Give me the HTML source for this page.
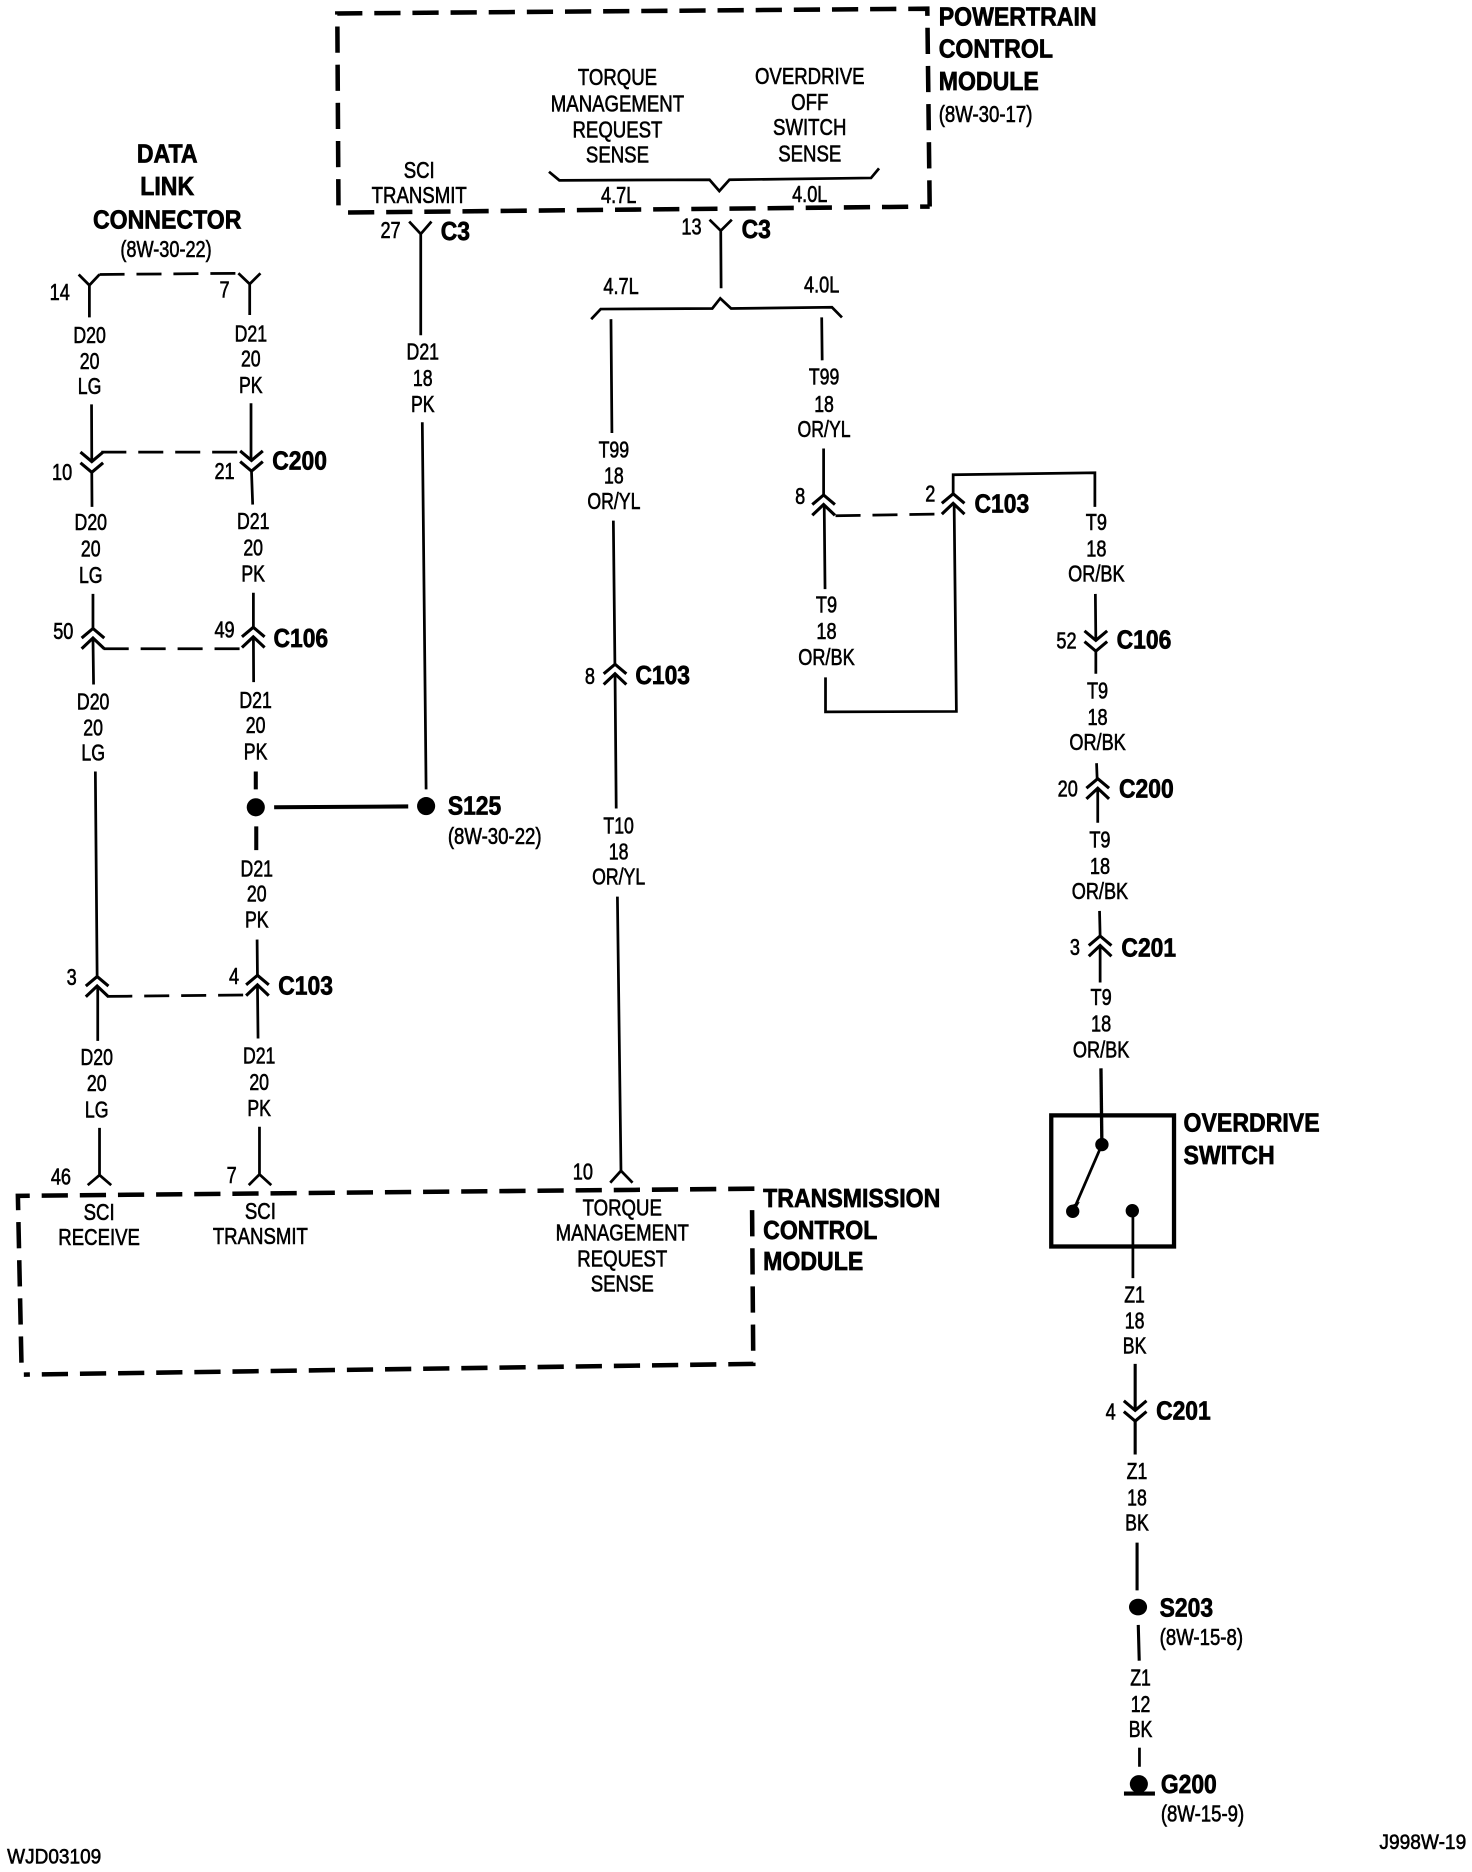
<!DOCTYPE html>
<html>
<head>
<meta charset="utf-8">
<style>
html,body{margin:0;padding:0;background:#fff;width:1472px;height:1872px;overflow:hidden}
svg{display:block}
text{font-family:"Liberation Sans",sans-serif;fill:#000}
.s text{font-size:19px;text-anchor:middle;stroke:#000;stroke-width:.5}
.l text{font-size:19px;text-anchor:start;stroke:#000;stroke-width:.5}
.b text{font-size:22px;font-weight:bold;text-anchor:start;stroke:#000;stroke-width:.6}
.bc text{font-size:22px;font-weight:bold;text-anchor:middle;stroke:#000;stroke-width:.6}
.w{fill:none;stroke:#000;stroke-width:2.3}
.t{fill:none;stroke:#000;stroke-width:3.4}
.d{fill:none;stroke:#000;stroke-width:2.3;stroke-dasharray:21 10}
.m{fill:none;stroke:#000;stroke-width:3.8;stroke-dasharray:22 10}
.c{fill:none;stroke:#000;stroke-width:2.6}
</style>
</head>
<body>
<svg xmlns="http://www.w3.org/2000/svg" width="1472" height="1872" viewBox="0 0 1235 1570">
<defs>
<path id="up" class="c" d="M-9.5,8 L0,0 L9.5,8 M-9.5,17 L0,8 L9.5,17"/>
<path id="dn" class="c" d="M-9.5,-8 L0,0 L9.5,-8 M-9.5,1 L0,9 L9.5,1"/>
</defs>

<!-- module boxes -->
<path class="m" d="M292,178 L780,173 M780,173 L778,7 L283,11 L284,178"/>
<path class="m" d="M18,1143 L15,1003 L633,997 M631,1015 L632,1144 L20,1153"/>

<!-- Data link connector -->
<path class="w" d="M66,230 L75,239 L83.5,230 M75,239 L75,266 M200,229 L209.5,238 L218.5,229 M209.5,238 L209.5,264"/>
<path class="d" d="M83.5,230 L200,229"/>

<!-- left column D20 -->
<use href="#dn" x="77" y="387"/>
<path class="w" d="M76.8,339 L77,387 M77,396 L77.2,425 M78,498 L78,527 M78,535 L78.5,574 M80,647 L81.5,819 M82,827 L82,873 M83.5,946 L83.5,986 M73.6,994 L83.5,985.6 L93.3,994"/>
<use href="#up" x="78" y="527"/>
<use href="#up" x="81.5" y="819"/>
<path class="d" d="M85,379 L201,379"/>
<path class="d" d="M87,544 L203,544"/>
<path class="d" d="M90,835.7 L207,834.5"/>

<!-- second column D21 -->
<use href="#dn" x="211" y="386"/>
<use href="#up" x="212.5" y="526"/>
<use href="#up" x="216" y="818"/>
<path class="w" d="M210.6,338 L210.6,386 M211,395 L212,423 M212.6,497 L212.6,526 M212.6,534 L212.8,572 M215.7,788 L216,818 M216,826 L216.5,871 M217.7,945 L217.7,985 M208.7,994 L217.7,985 L227.6,994"/>
<path class="t" d="M214.6,647 L214.6,662 M215,693 L215,713"/>
<circle cx="214.6" cy="677" r="7.6"/>
<path class="t" d="M230,677 L342.5,676.3"/>
<circle cx="357.5" cy="676" r="7.6"/>

<!-- SCI transmit wire -->
<path class="w" d="M343.3,185.6 L353,196 L362,185.6 M353,196 L353,281 M354.3,354 L357.5,662"/>

<!-- PCM splice brackets -->
<path class="w" d="M460.6,143.8 L469.3,151 L595.3,150.5 L603.5,160 L612,150.5 L730.8,149 L737.5,141"/>
<path class="w" d="M595.3,184 L604.7,193.3 L614,184 M604.7,193 L605,241.5"/>
<path class="w" d="M496,267.5 L504,259 L597.6,258.5 L604.3,250 L613.4,258.5 L698,257.5 L706.4,266"/>

<!-- center column -->
<use href="#up" x="516" y="557"/>
<path class="w" d="M512.6,267.5 L513.4,363 M514.6,436.5 L515.9,557 M516,565 L517,678 M518,752 L521,982 M512,992 L521,982 L530.7,992"/>

<!-- right loop -->
<use href="#up" x="691" y="415"/>
<use href="#up" x="799.7" y="414"/>
<path class="w" d="M689.4,266 L689.8,302 M691,376 L691,415 M691.5,423 L692.2,494 M692.6,568 L692.6,597 L802.4,596.6 L800.5,422 M799.7,414 L799.7,398 L918.6,396.3 L918.6,425"/>
<path class="d" d="M701,432.4 L785,431"/>

<!-- right column -->
<use href="#dn" x="919.4" y="537"/>
<use href="#up" x="921" y="653"/>
<use href="#up" x="923" y="785"/>
<path class="w" d="M919,498 L919.4,537 M919.4,545 L919.4,565 M920,640 L920.5,653 M921,661 L921,690 M922.5,764 L923,785 M923,793 L923,824"/>
<path class="w" style="stroke-width:2.8" d="M923.7,896 L924.5,962"/>

<!-- switch -->
<rect x="882" y="935.5" width="103" height="110" fill="none" stroke="#000" stroke-width="3.6"/>
<circle cx="924.5" cy="960" r="5.6"/>
<circle cx="900" cy="1016" r="5.6"/>
<circle cx="950" cy="1015.5" r="5.6"/>
<path class="w" d="M924.5,960 L902,1012"/>
<path d="M898.5,1011 L906,1008 L901,1017 Z"/>
<path class="w" d="M950.5,1017 L950.5,1072"/>

<!-- bottom -->
<use href="#dn" x="952.4" y="1183"/>
<path class="w" style="stroke-width:2.6" d="M952.4,1144 L952.4,1183 M952.4,1192 L952.4,1220 M954,1294 L954,1334 M955,1363 L955.8,1393"/>
<path class="w" d="M956,1466 L956,1482"/>
<ellipse cx="954.8" cy="1348" rx="7.6" ry="7"/>
<ellipse cx="955.5" cy="1496.5" rx="7.6" ry="7.5"/>
<path class="t" d="M943,1504.5 L969,1504.5"/>

<g transform="matrix(1.002 0 0 1.0013 0 -1)">
<!-- wire labels -->
<g class="s">
<g transform="translate(75,0) scale(.78,1)"><text y="288">D20</text><text y="310">20</text><text y="331">LG</text></g>
<g transform="translate(210,0) scale(.78,1)"><text y="287">D21</text><text y="308">20</text><text y="330">PK</text></g>
<g transform="translate(76,0) scale(.78,1)"><text y="445">D20</text><text y="467">20</text><text y="489">LG</text></g>
<g transform="translate(212,0) scale(.78,1)"><text y="444">D21</text><text y="466">20</text><text y="488">PK</text></g>
<g transform="translate(78,0) scale(.78,1)"><text y="595">D20</text><text y="617">20</text><text y="638">LG</text></g>
<g transform="translate(214,0) scale(.78,1)"><text y="594">D21</text><text y="615">20</text><text y="637">PK</text></g>
<g transform="translate(215,0) scale(.78,1)"><text y="735">D21</text><text y="756">20</text><text y="778">PK</text></g>
<g transform="translate(81,0) scale(.78,1)"><text y="893">D20</text><text y="915">20</text><text y="937">LG</text></g>
<g transform="translate(217,0) scale(.78,1)"><text y="892">D21</text><text y="914">20</text><text y="936">PK</text></g>
<g transform="translate(354,0) scale(.78,1)"><text y="302">D21</text><text y="324">18</text><text y="346">PK</text></g>
<g transform="translate(514,0) scale(.78,1)"><text y="384">T99</text><text y="406">18</text><text y="427">OR/YL</text></g>
<g transform="translate(518,0) scale(.78,1)"><text y="699">T10</text><text y="721">18</text><text y="742">OR/YL</text></g>
<g transform="translate(690,0) scale(.78,1)"><text y="323">T99</text><text y="346">18</text><text y="367">OR/YL</text></g>
<g transform="translate(692,0) scale(.8,1)"><text y="514">T9</text><text y="536">18</text><text y="558">OR/BK</text></g>
<g transform="translate(918,0) scale(.8,1)"><text y="445">T9</text><text y="467">18</text><text y="488">OR/BK</text></g>
<g transform="translate(919,0) scale(.8,1)"><text y="586">T9</text><text y="608">18</text><text y="629">OR/BK</text></g>
<g transform="translate(921,0) scale(.8,1)"><text y="711">T9</text><text y="733">18</text><text y="754">OR/BK</text></g>
<g transform="translate(922,0) scale(.8,1)"><text y="843">T9</text><text y="865">18</text><text y="887">OR/BK</text></g>
<g transform="translate(950,0) scale(.78,1)"><text y="1092">Z1</text><text y="1114">18</text><text y="1135">BK</text></g>
<g transform="translate(952,0) scale(.78,1)"><text y="1240">Z1</text><text y="1262">18</text><text y="1283">BK</text></g>
<g transform="translate(955,0) scale(.78,1)"><text y="1413">Z1</text><text y="1435">12</text><text y="1456">BK</text></g>

<!-- module pin labels -->
<g transform="translate(517,0) scale(.82,1)"><text y="72">TORQUE</text><text y="94">MANAGEMENT</text><text y="116">REQUEST</text><text y="137">SENSE</text></g>
<g transform="translate(678,0) scale(.82,1)"><text y="71">OVERDRIVE</text><text y="93">OFF</text><text y="114">SWITCH</text><text y="136">SENSE</text></g>
<g transform="translate(351,0) scale(.82,1)"><text y="150">SCI</text><text y="171">TRANSMIT</text></g>
<g transform="translate(83,0) scale(.82,1)"><text y="1023">SCI</text><text y="1044">RECEIVE</text></g>
<g transform="translate(218,0) scale(.82,1)"><text y="1022">SCI</text><text y="1043">TRANSMIT</text></g>
<g transform="translate(521,0) scale(.82,1)"><text y="1019">TORQUE</text><text y="1040">MANAGEMENT</text><text y="1062">REQUEST</text><text y="1083">SENSE</text></g>
<g transform="translate(518,0) scale(.8,1)"><text y="171">4.7L</text></g>
<g transform="translate(678,0) scale(.8,1)"><text y="170">4.0L</text></g>
<g transform="translate(520,0) scale(.8,1)"><text y="247">4.7L</text></g>
<g transform="translate(688,0) scale(.8,1)"><text y="246">4.0L</text></g>

<!-- pin numbers -->
<g transform="translate(327,200) scale(.8,1)"><text>27</text></g>
<g transform="translate(579,197) scale(.8,1)"><text>13</text></g>
<g transform="translate(50,252) scale(.8,1)"><text>14</text></g>
<g transform="translate(188,250) scale(.8,1)"><text>7</text></g>
<g transform="translate(52,403) scale(.8,1)"><text>10</text></g>
<g transform="translate(188,402) scale(.8,1)"><text>21</text></g>
<g transform="translate(53,536) scale(.8,1)"><text>50</text></g>
<g transform="translate(188,535) scale(.8,1)"><text>49</text></g>
<g transform="translate(60,826) scale(.8,1)"><text>3</text></g>
<g transform="translate(196,825) scale(.8,1)"><text>4</text></g>
<g transform="translate(51,993) scale(.8,1)"><text>46</text></g>
<g transform="translate(194,992) scale(.8,1)"><text>7</text></g>
<g transform="translate(488,989) scale(.8,1)"><text>10</text></g>
<g transform="translate(670,423) scale(.8,1)"><text>8</text></g>
<g transform="translate(779,421) scale(.8,1)"><text>2</text></g>
<g transform="translate(494,574) scale(.8,1)"><text>8</text></g>
<g transform="translate(893,544) scale(.8,1)"><text>52</text></g>
<g transform="translate(894,668) scale(.8,1)"><text>20</text></g>
<g transform="translate(900,801) scale(.8,1)"><text>3</text></g>
<g transform="translate(930,1190) scale(.8,1)"><text>4</text></g>

<g transform="translate(139,216) scale(.8,1)"><text>(8W-30-22)</text></g>
</g>

<!-- reference labels (left aligned) -->
<g class="l">
<g transform="translate(786,103) scale(.82,1)"><text>(8W-30-17)</text></g>
<g transform="translate(375,708) scale(.82,1)"><text>(8W-30-22)</text></g>
<g transform="translate(971,1379) scale(.82,1)"><text>(8W-15-8)</text></g>
<g transform="translate(972,1527) scale(.82,1)"><text>(8W-15-9)</text></g>
<g transform="translate(6,1562) scale(.885,1)"><text style="font-size:18px">WJD03109</text></g>
<g transform="translate(1155,1550) scale(.89,1)"><text style="font-size:18px">J998W-19</text></g>
</g>

<!-- bold labels -->
<g class="bc">
<g transform="translate(140,0) scale(.88,1)"><text y="137">DATA</text><text y="164">LINK</text><text y="192">CONNECTOR</text></g>
</g>
<g class="b">
<g transform="translate(786,0) scale(.88,1)"><text y="22">POWERTRAIN</text><text y="49">CONTROL</text><text y="76">MODULE</text></g>
<g transform="translate(639,0) scale(.88,1)"><text y="1012">TRANSMISSION</text><text y="1039">CONTROL</text><text y="1065">MODULE</text></g>
<g transform="translate(991,0) scale(.88,1)"><text y="949">OVERDRIVE</text><text y="976">SWITCH</text></g>
<g transform="translate(369,202) scale(.87,1)"><text>C3</text></g>
<g transform="translate(621,200) scale(.87,1)"><text>C3</text></g>
<g transform="translate(228,394) scale(.87,1)"><text>C200</text></g>
<g transform="translate(229,543) scale(.87,1)"><text>C106</text></g>
<g transform="translate(233,834) scale(.87,1)"><text>C103</text></g>
<g transform="translate(532,574) scale(.87,1)"><text>C103</text></g>
<g transform="translate(816,430) scale(.87,1)"><text>C103</text></g>
<g transform="translate(935,544) scale(.87,1)"><text>C106</text></g>
<g transform="translate(937,669) scale(.87,1)"><text>C200</text></g>
<g transform="translate(939,802) scale(.87,1)"><text>C201</text></g>
<g transform="translate(968,1190) scale(.87,1)"><text>C201</text></g>
<g transform="translate(375,683) scale(.87,1)"><text>S125</text></g>
<g transform="translate(971,1355) scale(.87,1)"><text>S203</text></g>
<g transform="translate(972,1503) scale(.87,1)"><text>G200</text></g>
</g>
</g>
</svg>
</body>
</html>
